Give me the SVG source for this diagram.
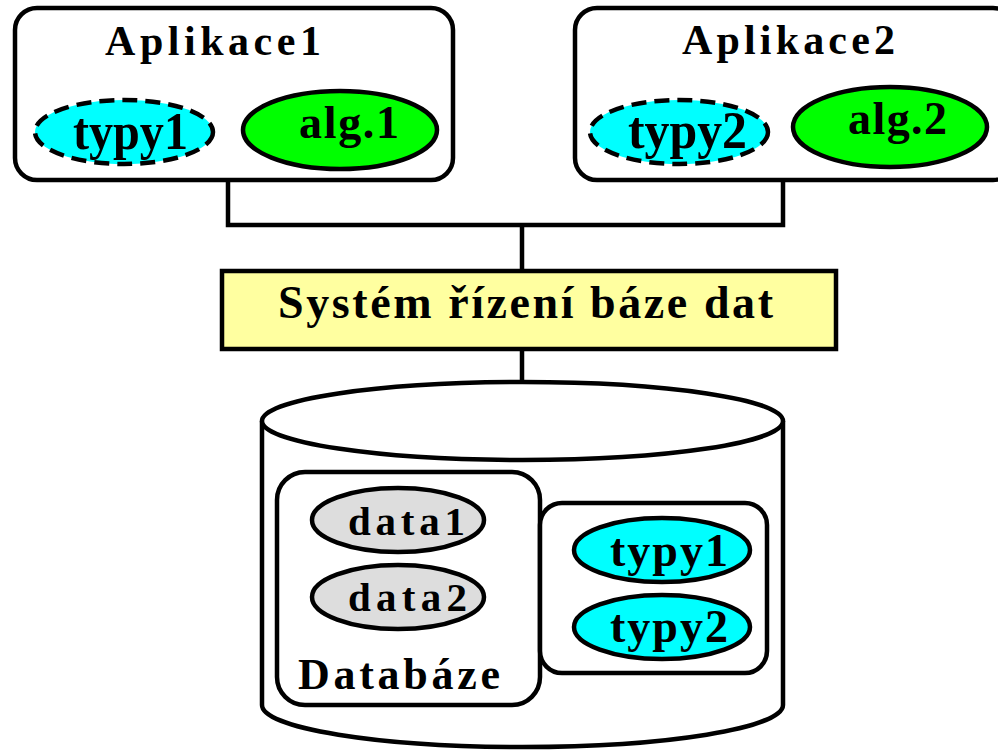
<svg xmlns="http://www.w3.org/2000/svg" width="998" height="750" viewBox="0 0 998 750">
<style>
.box{fill:#fff;stroke:#000;stroke-width:4.5}
.ln{fill:none;stroke:#000;stroke-width:4.5}
.t{font-family:"Liberation Serif","Times New Roman",serif;font-weight:bold;fill:#000}
.cy{fill:#00ffff;stroke:#000;stroke-width:4.5}
.dash{stroke-dasharray:15 8}
.gr{fill:#00ff00;stroke:#000;stroke-width:4.5}
.gy{fill:#dddddd;stroke:#000;stroke-width:4.5}
</style>
<g id="connectors">
<path class="ln" d="M228 180 V225 H783 V180 M522 225 V271 M522 349 V382"/>
</g>
<g id="aplikace1">
<rect class="box" x="15" y="8" width="438" height="172" rx="22"/>
<text class="t" x="105" y="55" font-size="42" textLength="216" lengthAdjust="spacing">Aplikace1</text>
<ellipse class="cy dash" cx="124" cy="132" rx="89" ry="32"/>
<text class="t" x="73" y="149" font-size="52" textLength="115" lengthAdjust="spacingAndGlyphs">typy1</text>
<ellipse class="gr" cx="340" cy="130" rx="97" ry="39"/>
<text class="t" x="299" y="138" font-size="46" textLength="100" lengthAdjust="spacing">alg.1</text>
</g>
<g id="aplikace2">
<rect class="box" x="575" y="8" width="440" height="172" rx="22"/>
<text class="t" x="682" y="54" font-size="42" textLength="213" lengthAdjust="spacing">Aplikace2</text>
<ellipse class="cy dash" cx="679" cy="132" rx="89" ry="32"/>
<text class="t" x="628" y="148" font-size="52" textLength="119" lengthAdjust="spacingAndGlyphs">typy2</text>
<ellipse class="gr" cx="890" cy="127" rx="97" ry="40"/>
<text class="t" x="848" y="134" font-size="46" textLength="99" lengthAdjust="spacing">alg.2</text>
</g>
<g id="sribd">
<rect x="222" y="271" width="614" height="78" fill="#ffffa0" stroke="#000" stroke-width="4.5"/>
<text class="t" x="278" y="318" font-size="46" textLength="495" lengthAdjust="spacing">Systém řízení báze dat</text>
</g>
<g id="databaze">
<path class="box" d="M262 421 V705 A260.5 42 0 0 0 783 705 V421"/>
<ellipse class="box" cx="522.5" cy="421" rx="260.5" ry="39"/>
<rect class="box" x="277" y="472" width="263" height="233" rx="28"/>
<ellipse class="gy" cx="398" cy="520" rx="86" ry="32"/>
<text class="t" x="348" y="535" font-size="41" textLength="117" lengthAdjust="spacing">data1</text>
<ellipse class="gy" cx="398" cy="597" rx="86" ry="32"/>
<text class="t" x="348" y="611" font-size="41" textLength="119" lengthAdjust="spacing">data2</text>
<text class="t" x="298" y="689" font-size="44" textLength="202" lengthAdjust="spacing">Databáze</text>
<rect class="box" x="540" y="503" width="227" height="170" rx="22"/>
<ellipse class="cy" cx="662" cy="550" rx="88" ry="32"/>
<text class="t" x="610" y="566" font-size="46" textLength="118" lengthAdjust="spacing">typy1</text>
<ellipse class="cy" cx="662" cy="627" rx="88" ry="32"/>
<text class="t" x="610" y="642" font-size="46" textLength="118" lengthAdjust="spacing">typy2</text>
</g>
</svg>
